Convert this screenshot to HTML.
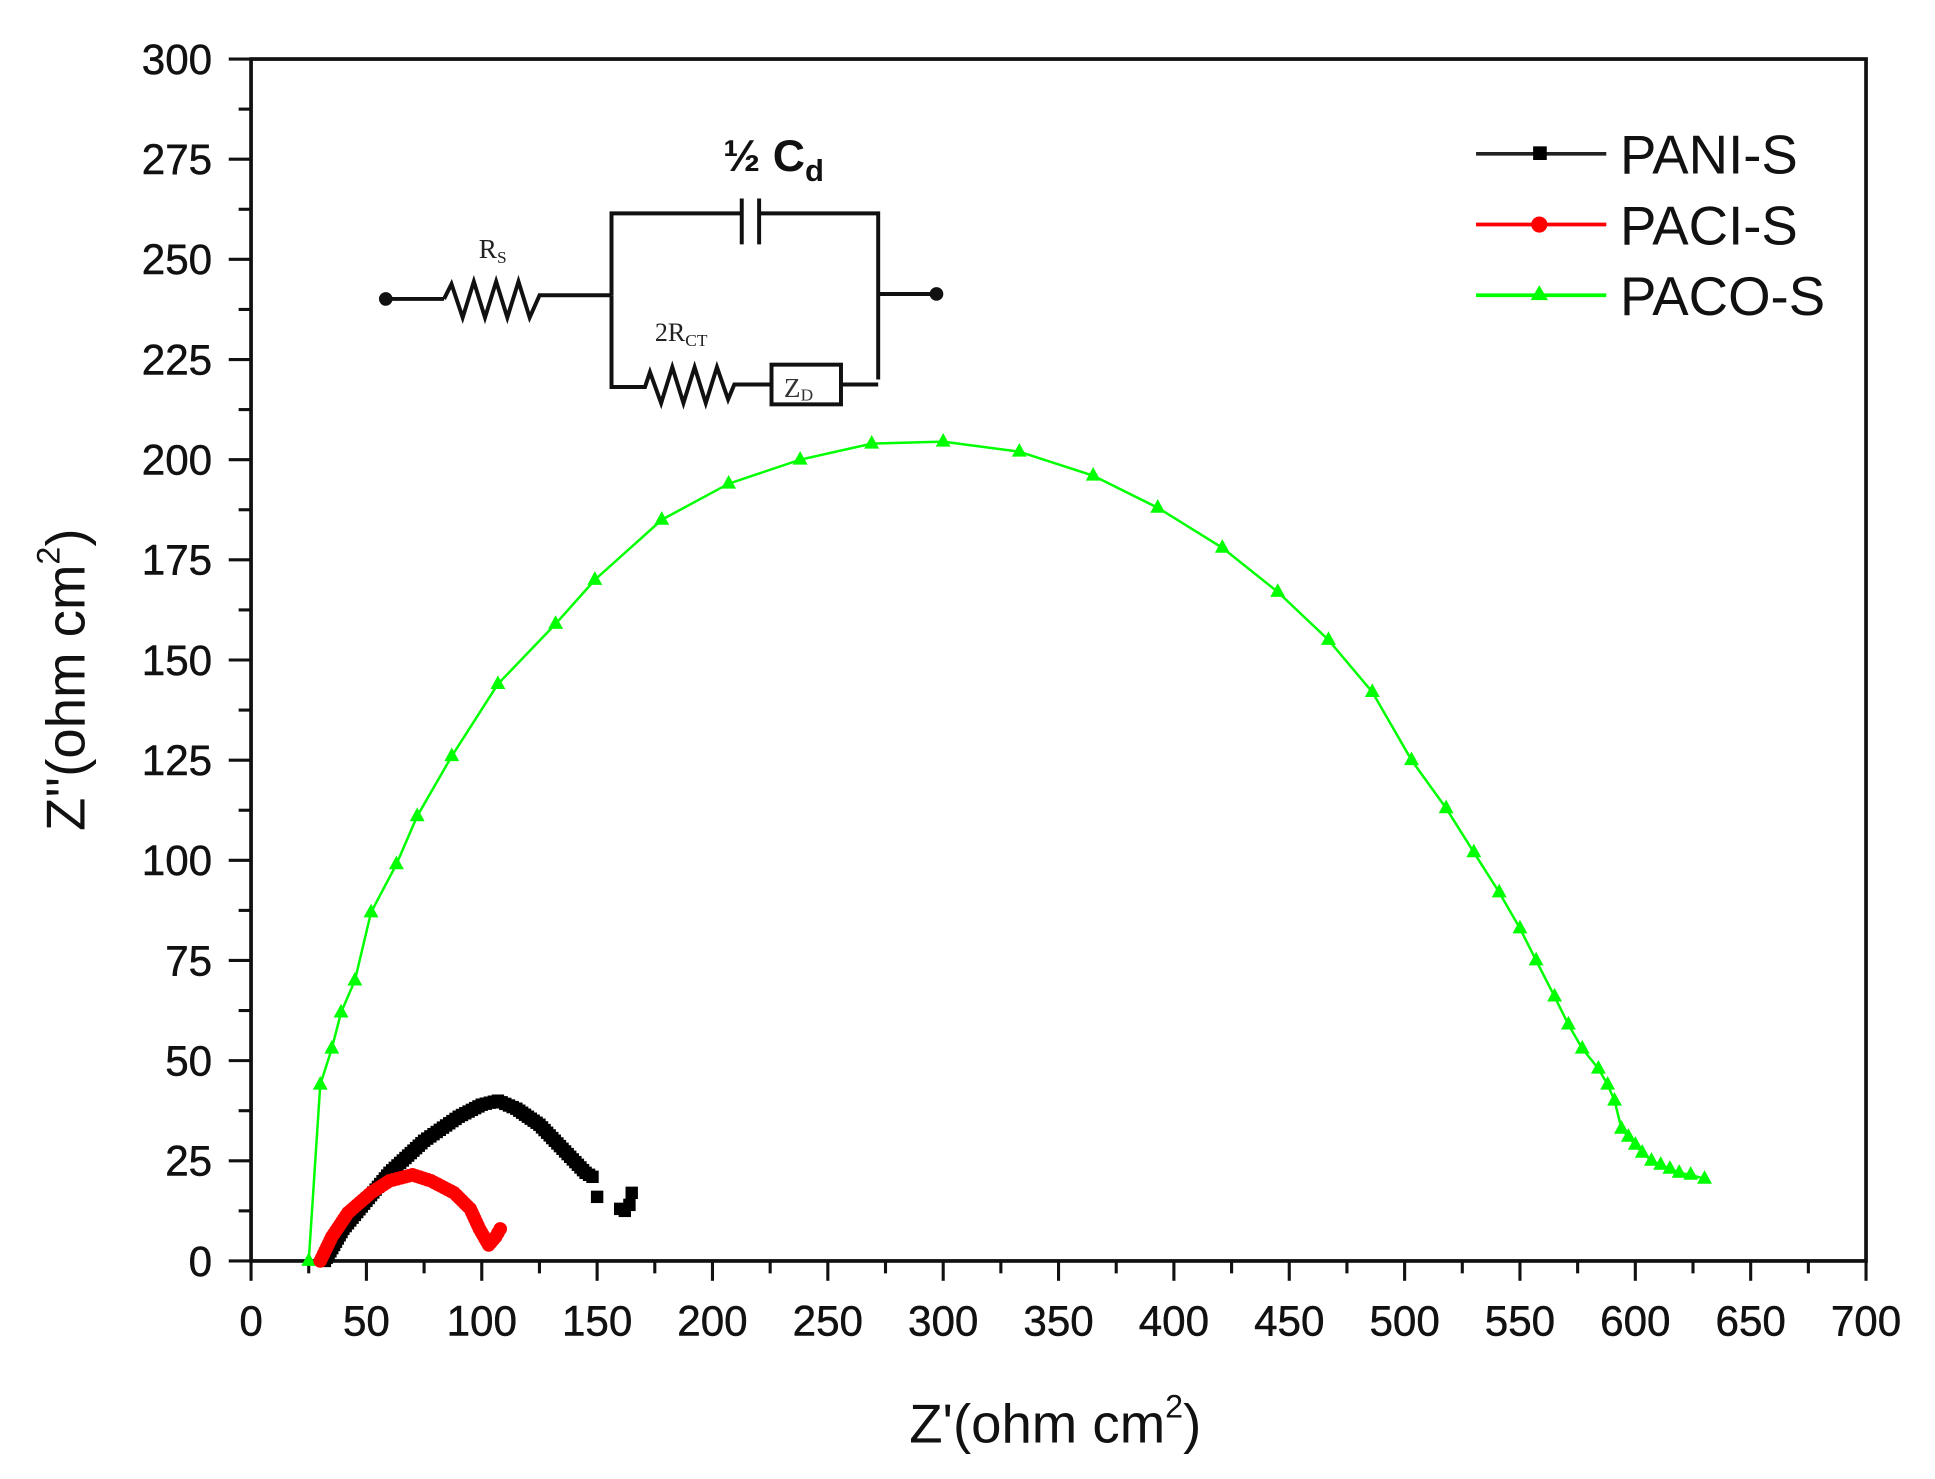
<!DOCTYPE html>
<html><head><meta charset="utf-8"><style>html,body{margin:0;padding:0;background:#fff}svg{display:block}</style></head>
<body>
<svg id="s" xmlns="http://www.w3.org/2000/svg" width="1935" height="1479" viewBox="0 0 1560 1192.4" preserveAspectRatio="none" font-family="Liberation Sans, Arial, sans-serif">
<rect width="1560" height="1192.4" fill="#fff"/>
<g id="axes"></g>
<g id="data"></g>
<!-- circuit inset -->
<g stroke="#111" stroke-width="3.2" fill="none">
<line x1="311" y1="241" x2="358" y2="241"/>
<polyline points="358,241 364,229 373,256 382,227 391,256 400,227 409,256 418,227 427,256 435,238 493,238"/>
<polyline points="493,238 493,172 598,172"/>
<line x1="598" y1="160" x2="598" y2="197"/><line x1="612" y1="160" x2="612" y2="197"/>
<polyline points="612,172 708,172 708,306"/>
<line x1="708" y1="237" x2="755" y2="237"/>
<polyline points="493,238 493,312 520,312 524,300 533,325 542,296 551,325 560,296 569,325 578,296 587,322 592,310 622,310"/>
<rect x="622" y="294" width="56" height="32"/>
<line x1="678" y1="310" x2="708" y2="310"/>
</g>
<circle cx="311" cy="241" r="5.5" fill="#111"/><circle cx="755" cy="237" r="5.5" fill="#111"/>
<text x="386" y="208" font-family="Liberation Serif, serif" font-size="22" fill="#222">R<tspan font-size="14" dy="4">S</tspan></text>
<text x="528" y="275" font-family="Liberation Serif, serif" font-size="21" fill="#222">2R<tspan font-size="14" dy="4">CT</tspan></text>
<text x="632" y="320" font-family="Liberation Serif, serif" font-size="22" fill="#333">Z<tspan font-size="14" dy="3">D</tspan></text>
<text x="583" y="138" font-size="36" font-weight="bold" fill="#111">½ C<tspan font-size="25" dy="8">d</tspan></text>
<!-- legend -->
<g stroke-width="3">
<line x1="1190" y1="124" x2="1295" y2="124" stroke="#222"/>
<line x1="1190" y1="181" x2="1295" y2="181" stroke="#f00"/>
<line x1="1190" y1="238" x2="1295" y2="238" stroke="#0f0"/>
</g>
<rect x="1236" y="118" width="11" height="11" fill="#000"/>
<circle cx="1241" cy="181" r="6.5" fill="#f00"/>
<polygon points="1241,230 1248,242 1234,242" fill="#0f0"/>
<g font-size="44" fill="#111">
<text x="1306" y="140">PANI-S</text>
<text x="1306" y="197">PACI-S</text>
<text x="1306" y="254">PACO-S</text>
</g>
<text x="733" y="1163" font-size="44" fill="#111">Z'(ohm cm<tspan font-size="26" dy="-20">2</tspan><tspan dy="20">)</tspan></text>
<text transform="translate(68,548) rotate(-90)" text-anchor="middle" font-size="44" fill="#111">Z''(ohm cm<tspan font-size="26" dy="-20">2</tspan><tspan dy="20">)</tspan></text>
</svg>
<script>
var X0=202.4,XS=(1504.4-202.4)/700,Y0=1016.6,YS=(1016.6-47.6)/300;
function X(v){return X0+XS*v}function Y(v){return Y0-YS*v}
var ns="http://www.w3.org/2000/svg";
function el(p,t,a,txt){var e=document.createElementNS(ns,t);for(var k in a)e.setAttribute(k,a[k]);if(txt!==undefined)e.textContent=txt;p.appendChild(e);return e}
var ax=document.getElementById('axes');
el(ax,'rect',{x:X(0),y:Y(300),width:X(700)-X(0),height:Y(0)-Y(300),fill:'none',stroke:'#111','stroke-width':3});
for(var v=0;v<=700;v+=25){var maj=v%50==0;el(ax,'line',{x1:X(v),x2:X(v),y1:Y(0),y2:Y(0)+(maj?16:10),stroke:'#111','stroke-width':2.5});
 if(maj)el(ax,'text',{x:X(v),y:Y(0)+60,'text-anchor':'middle','font-size':34,fill:'#111',stroke:'#111','stroke-width':0.4},String(v));}
for(var v=0;v<=300;v+=12.5){var maj=v%25==0;el(ax,'line',{x1:X(0),x2:X(0)-(maj?18:10),y1:Y(v),y2:Y(v),stroke:'#111','stroke-width':2.5});
 if(maj)el(ax,'text',{x:171,y:Y(v)+12,'text-anchor':'end','font-size':34,fill:'#111',stroke:'#111','stroke-width':0.4},String(v));}
var d=document.getElementById('data');
var g=[[25,0],[30,44],[35,53],[39,62],[45,70],[52,87],[63,99],[72,111],[87,126],[107,144],[132,159],[149,170],[178,185],[207,194],[238,200],[269,204],[300,204.5],[333,202],[365,196],[393,188],[421,178],[445,167],[467,155],[486,142],[503,125],[518,113],[530,102],[541,92],[550,83],[557,75],[565,66],[571,59],[577,53],[584,48],[588,44],[591,40],[594,33],[597,31],[600,29],[603,27],[607,25],[611,24],[615,23],[619,22],[624,21.5],[630,20.5]];
el(d,'polyline',{points:g.map(function(p){return X(p[0])+','+Y(p[1])}).join(' '),fill:'none',stroke:'#0f0','stroke-width':2});
g.forEach(function(p){var x=X(p[0]),y=Y(p[1]);el(d,'polygon',{points:x+','+(y-7)+' '+(x+6)+','+(y+4)+' '+(x-6)+','+(y+4),fill:'#0f0'})});
function interp(pts,step){var out=[];for(var i=0;i<pts.length-1;i++){var a=pts[i],b=pts[i+1];var n=Math.max(1,Math.round(Math.hypot(X(b[0])-X(a[0]),Y(b[1])-Y(a[1]))/step));for(var j=0;j<n;j++){var t=j/n;out.push([a[0]+(b[0]-a[0])*t,a[1]+(b[1]-a[1])*t])}}out.push(pts[pts.length-1]);return out}
var b=interp([[32,0],[40,8],[50,15],[60,22],[75,30],[90,36],[100,39],[107,40],[115,38],[125,34],[135,28],[145,22],[148,21]],3);
b.forEach(function(p){el(d,'rect',{x:X(p[0])-5,y:Y(p[1])-5,width:10,height:10,fill:'#000'})});
[[150,16],[160,13],[162,12.5],[164,14],[165,17]].forEach(function(p){el(d,'rect',{x:X(p[0])-5,y:Y(p[1])-5,width:10,height:10,fill:'#000'})});
var r=interp([[30,0],[35,6],[42,12],[52,17],[60,20],[70,21.5],[78,20],[88,17],[95,13],[99,8],[103,4],[106,6],[108,8]],3);
r.forEach(function(p){el(d,'circle',{cx:X(p[0]),cy:Y(p[1]),r:5.5,fill:'#f00'})});
</script>
</body></html>
